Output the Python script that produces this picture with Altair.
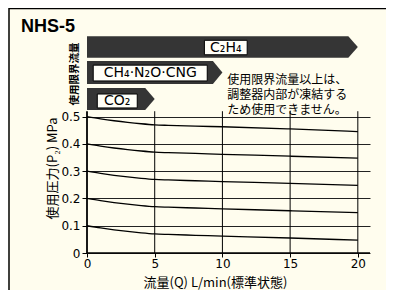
import altair as alt
import pandas as pd

# ---- data ----
flow = [0, 1, 2, 3, 4, 5, 6, 8, 10, 15, 20]
p01 = [0.100, 0.092, 0.085, 0.079, 0.074, 0.070, 0.068, 0.065, 0.062, 0.055, 0.047]
p02 = [0.200, 0.192, 0.185, 0.179, 0.174, 0.170, 0.168, 0.165, 0.162, 0.155, 0.148]
p03 = [0.300, 0.292, 0.285, 0.279, 0.274, 0.270, 0.268, 0.265, 0.262, 0.255, 0.248]
p04 = [0.400, 0.392, 0.385, 0.379, 0.374, 0.370, 0.368, 0.365, 0.362, 0.355, 0.348]
p05 = [0.500, 0.492, 0.485, 0.479, 0.474, 0.470, 0.468, 0.465, 0.463, 0.455, 0.445]

gases = ["C₂H₄", "CH₄·N₂O·CNG", "CO₂"]
limit_flow = [20, 10, 5]

x_ticks = [0, 5, 10, 15, 20]
y_ticks = [0, 0.1, 0.2, 0.3, 0.4, 0.5]

note_lines = ["使用限界流量以上は、", "調整器内部が凍結する", "ため使用できません。"]

# ---- styling / layout ----
BG = "#FFFDEE"
XMAX = 20.9
YMAX = 0.8985
band_top = [0.795, 0.704, 0.605]
band_bot = [0.716, 0.620, 0.524]
arrow_len = 0.7
box_x = [(8.67, 11.83), (0.46, 8.88), (0.76, 3.71)]
box_y = [(0.780, 0.727), (0.689, 0.631), (0.583, 0.532)]
note_y = [0.634, 0.579, 0.524]
JP = "Noto Sans CJK JP"

xs = alt.Scale(domain=[0, XMAX], nice=False, zero=False)
ys = alt.Scale(domain=[0, YMAX], nice=False, zero=False)

rows = []
for name, vals in [("0.1", p01), ("0.2", p02), ("0.3", p03), ("0.4", p04), ("0.5", p05)]:
    for q, p in zip(flow, vals):
        rows.append({"s": name, "q": q, "p": p})
curves_df = pd.DataFrame(rows)

brow = []
for g, lim, t, b in zip(gases, limit_flow, band_top, band_bot):
    m = (t + b) / 2
    brow += [{"g": g, "x": 0, "t": t, "b": b},
             {"g": g, "x": lim - arrow_len, "t": t, "b": b},
             {"g": g, "x": lim, "t": m, "b": m}]
band_df = pd.DataFrame(brow)

box_df = pd.DataFrame({
    "g": gases,
    "x1": [a for a, _ in box_x], "x2": [b for _, b in box_x],
    "y1": [a for a, _ in box_y], "y2": [b for _, b in box_y],
    "xc": [(a + b) / 2 for a, b in box_x], "yc": [(a + b) / 2 for a, b in box_y],
})

xaxis = alt.Axis(values=x_ticks, grid=False, domain=False, tickSize=4, tickColor="black",
                 tickWidth=1, labelFontSize=12, labelColor="black", labelFont="DejaVu Sans",
                 labelPadding=1, labelFlush=False,
                 title="流量(Q) L/min(標準状態)", titleFont=JP, titleFontSize=13,
                 titleFontWeight="normal", titleColor="black", titleX=128, titleY=29,
                 titleBaseline="middle", titleAlign="center")
yaxis = alt.Axis(values=y_ticks, format="~g", grid=True, gridColor="#222", gridWidth=1,
                 domain=False, tickSize=5, tickColor="black", tickWidth=1,
                 labelFontSize=12, labelColor="black", labelFont="DejaVu Sans", labelPadding=2,
                 title="使用圧力(P₂) MPa", titleFont=JP, titleFontSize=13,
                 titleFontWeight="normal", titleColor="black", titleX=-35, titleY=160,
                 titleAngle=-90, titleBaseline="middle", titleAlign="center")

curves = alt.Chart(curves_df).mark_line(color="black", strokeWidth=1.3, interpolate="monotone").encode(
    x=alt.X("q:Q", scale=xs, axis=xaxis),
    y=alt.Y("p:Q", scale=ys, axis=yaxis),
    detail="s:N",
)

vgrid = alt.Chart(pd.DataFrame({"q": x_ticks})).mark_rule(color="black").encode(
    x=alt.X("q:Q", scale=xs),
    y=alt.datum(0, scale=ys), y2=alt.datum(0.52),
    strokeWidth=alt.condition("datum.q == 0", alt.value(1.8), alt.value(1)),
)
xline = alt.Chart(pd.DataFrame({"a": [0]})).mark_rule(color="black", strokeWidth=1.5).encode(
    x=alt.datum(0, scale=xs), x2=alt.datum(XMAX), y=alt.datum(0, scale=ys))

bands = alt.Chart(band_df).mark_area(color="#353535", interpolate="linear", opacity=1).encode(
    x=alt.X("x:Q", scale=xs), y=alt.Y("t:Q", scale=ys), y2="b:Q", detail="g:N")

boxes = alt.Chart(box_df).mark_rect(fill="#FFFFF8", stroke="black", strokeWidth=1).encode(
    x=alt.X("x1:Q", scale=xs), x2="x2:Q", y=alt.Y("y1:Q", scale=ys), y2="y2:Q")
box_text = alt.Chart(box_df).mark_text(font="DejaVu Sans", fontSize=14, color="black",
                                       baseline="middle", align="center").encode(
    x=alt.X("xc:Q", scale=xs), y=alt.Y("yc:Q", scale=ys), text="g:N")

note = alt.Chart(pd.DataFrame({"t": note_lines, "y": note_y})).mark_text(
    font=JP, fontSize=12, color="black", align="left", baseline="middle").encode(
    x=alt.datum(10.35, scale=xs), y=alt.Y("y:Q", scale=ys), text="t:N")

title = alt.Chart(pd.DataFrame({"t": ["NHS-5"]})).mark_text(
    font="Liberation Sans", fontSize=18, fontWeight="bold", color="black",
    align="left", baseline="middle").encode(x=alt.value(-66), y=alt.value(19), text="t:N")

side = alt.Chart(pd.DataFrame({"t": ["使用限界流量"]})).mark_text(
    font=JP, fontSize=10.5, fontWeight="bold", color="black", angle=270,
    align="center", baseline="middle").encode(x=alt.value(-12), y=alt.value(66), text="t:N")

border_l = alt.Chart(pd.DataFrame({"a": [0]})).mark_rule(color="black", strokeWidth=1.5).encode(
    x=alt.value(-78), y=alt.value(0), y2=alt.value(290))
border_t = alt.Chart(pd.DataFrame({"a": [0]})).mark_rule(color="black", strokeWidth=1.5).encode(
    x=alt.value(-78), x2=alt.value(310), y=alt.value(0.5))

chart = alt.layer(
    border_l, border_t, vgrid, xline, curves, bands, boxes, box_text, note, title, side
).properties(
    width=283, height=245,
    autosize=alt.AutoSizeParams(type="none"),
    padding={"left": 79, "top": 0, "right": 16, "bottom": 37},
    background=BG,
).configure_view(stroke=None)

chart.save("out.html", embed_options={"renderer": "svg", "actions": False})
